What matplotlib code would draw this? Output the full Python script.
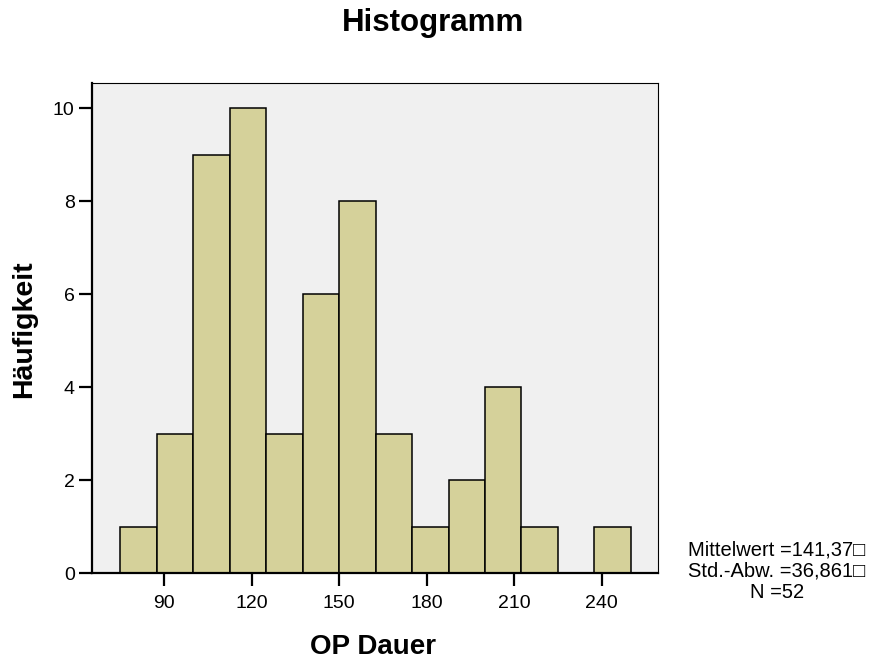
import matplotlib
matplotlib.use("Agg")
import matplotlib.pyplot as plt
import numpy as np

plt.rcParams['font.family'] = ['Liberation Sans', 'DejaVu Sans']

bin_edges = [75, 87.5, 100, 112.5, 125, 137.5, 150, 162.5, 175, 187.5, 200, 212.5, 225, 237.5, 250]
counts = [1, 3, 9, 10, 3, 6, 8, 3, 1, 2, 4, 1, 0, 1]
x_ticks = [90, 120, 150, 180, 210, 240]
y_ticks = [0, 2, 4, 6, 8, 10]
stats_lines = ["Mittelwert =141,37\u25a1", "Std.-Abw. =36,861\u25a1", "N =52"]

fig = plt.figure(figsize=(8.72, 6.63), dpi=100)
ax = fig.add_axes([92/872, 1-573/663, (658-92)/872, (573-83)/663])
ax.set_facecolor('#F0F0F0')

lefts = np.array(bin_edges[:-1])
widths = np.diff(bin_edges)
ax.bar(lefts, counts, width=widths, align='edge', color='#D5D19A',
       edgecolor='black', linewidth=1.1, zorder=2)

ax.set_xlim(65.3, 259.3)
ax.set_ylim(0, 10.54)
ax.set_xticks(x_ticks)
ax.set_yticks(y_ticks)
ax.tick_params(axis='both', direction='out', length=9.5, width=1.6, labelsize=14)
ax.tick_params(axis='x', pad=6.5)
ax.tick_params(axis='y', pad=3)

for s in ['left', 'bottom']:
    ax.spines[s].set_linewidth(1.6)
for s in ['top', 'right']:
    ax.spines[s].set_linewidth(0.8)

fig.text(433/872, 1-23/663, "Histogramm", ha='center', va='center', fontsize=22.5, fontweight='bold')
fig.text(373/872, 1-647/663, "OP Dauer", ha='center', va='center', fontsize=20, fontweight='bold')
fig.text(24/872, 1-329/663, "Häufigkeit", ha='center', va='center', rotation=90, fontsize=20.5, fontweight='bold')

ys = [550, 571, 592]
for line, y in zip(stats_lines, ys):
    fig.text(777/872, 1-y/663, line, ha='center', va='center', fontsize=14.5)

fig.savefig("out.png", dpi=100)
